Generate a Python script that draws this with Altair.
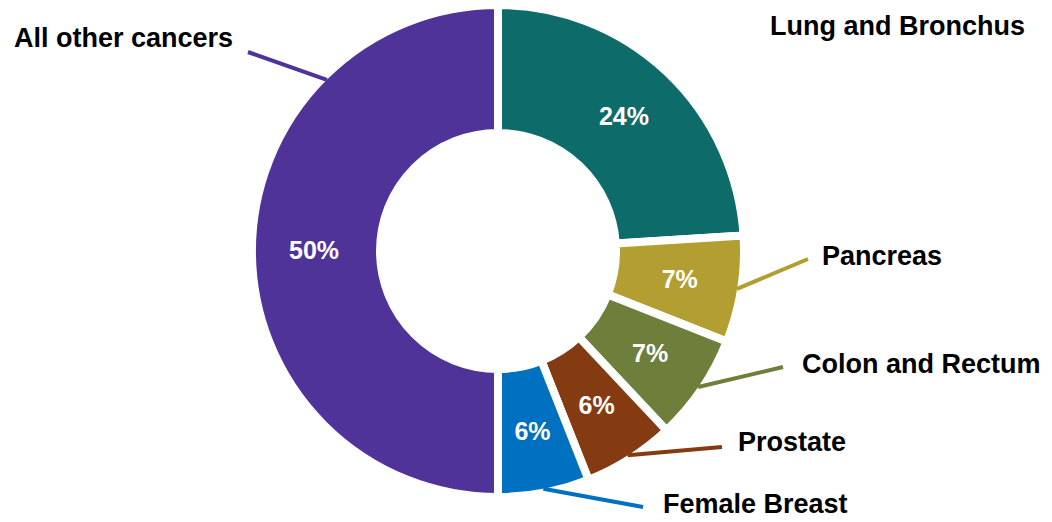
import math
import altair as alt
import pandas as pd

# ---- data ----
categories = ["Lung and Bronchus", "Pancreas", "Colon and Rectum",
              "Prostate", "Female Breast", "All other cancers"]
shares = [24, 7, 7, 6, 6, 50]
colors = ["#0D6B6A", "#B39E32", "#6E7E3B", "#843B11", "#0070C0", "#4F3399"]

# ---- layout (chart pixel space) ----
W, H = 980, 486          # plot area; donut centre at (W/2, H/2)
CX, CY = W / 2, H / 2
R_OUT, R_IN = 242, 122
GAP = 8

# label/leader placement per category: leader end point and text anchor
label_layout = {
    "Lung and Bronchus": dict(end=None, text=(762, 19), align="left"),
    "Pancreas": dict(end=(800, 251), text=(814, 249), align="left"),
    "Colon and Rectum": dict(end=(775, 359), text=(794, 357), align="left"),
    "Prostate": dict(end=(714, 439), text=(730, 435), align="left"),
    "Female Breast": dict(end=(635, 499), text=(655, 497), align="left"),
    "All other cancers": dict(end=(240, 44), text=(225, 31), align="right",
                              anchor_angle=315),
}

df = pd.DataFrame({
    "category": categories,
    "share": shares,
    "order": list(range(len(categories))),
    "pct": [f"{s}%" for s in shares],
})

# leader lines: start on the slice's outer edge (mid angle), end at label
total = sum(shares)
cum = 0
rows = []
for cat, s in zip(categories, shares):
    mid = (cum + s / 2) / total * 360
    cum += s
    lay = label_layout[cat]
    if lay["end"] is None:
        continue
    ang = math.radians(lay.get("anchor_angle", mid))
    rows.append({
        "category": cat,
        "x": CX + R_OUT * math.sin(ang),
        "y": CY - R_OUT * math.cos(ang),
        "x2": lay["end"][0],
        "y2": lay["end"][1],
    })
leaders = pd.DataFrame(rows)

labels = pd.DataFrame([
    {"category": c, "x": label_layout[c]["text"][0], "y": label_layout[c]["text"][1],
     "align": label_layout[c]["align"]}
    for c in categories
])

color_scale = alt.Scale(domain=categories, range=colors)
xs = alt.Scale(domain=[0, W], range=[0, W])
ys = alt.Scale(domain=[0, H], range=[0, H])

arc = alt.Chart(df).mark_arc(
    outerRadius=R_OUT + GAP / 2, innerRadius=R_IN - GAP / 2,
    stroke="white", strokeWidth=GAP,
).encode(
    theta=alt.Theta("share:Q", stack=True),
    color=alt.Color("category:N", scale=color_scale, legend=None),
    order=alt.Order("order:Q"),
)

pct = alt.Chart(df).mark_text(
    radius=184, font="Liberation Sans", fontWeight="bold", fontSize=25,
    color="white",
).encode(
    theta=alt.Theta("share:Q", stack=True),
    text="pct:N",
    order=alt.Order("order:Q"),
)

lines = alt.Chart(leaders).mark_rule(strokeWidth=4).encode(
    x=alt.X("x:Q", scale=xs, axis=None),
    y=alt.Y("y:Q", scale=ys, axis=None),
    x2="x2:Q",
    y2="y2:Q",
    color=alt.Color("category:N", scale=color_scale, legend=None),
)

text_kw = dict(font="Liberation Sans", fontWeight="bold", fontSize=27,
               color="black", baseline="middle")
left_text = alt.Chart(labels).transform_filter("datum.align == 'left'").mark_text(
    align="left", **text_kw
).encode(
    x=alt.X("x:Q", scale=xs, axis=None),
    y=alt.Y("y:Q", scale=ys, axis=None),
    text="category:N",
)
right_text = alt.Chart(labels).transform_filter("datum.align == 'right'").mark_text(
    align="right", **text_kw
).encode(
    x=alt.X("x:Q", scale=xs, axis=None),
    y=alt.Y("y:Q", scale=ys, axis=None),
    text="category:N",
)

chart = alt.layer(arc, pct, lines, left_text, right_text).properties(
    width=W, height=H,
    autosize=alt.AutoSizeParams(type="none"),
    padding={"left": 0, "top": 0, "right": 56, "bottom": 26},
).configure_view(stroke=None)

chart.save("out.html", embed_options={"renderer": "svg", "actions": False})
